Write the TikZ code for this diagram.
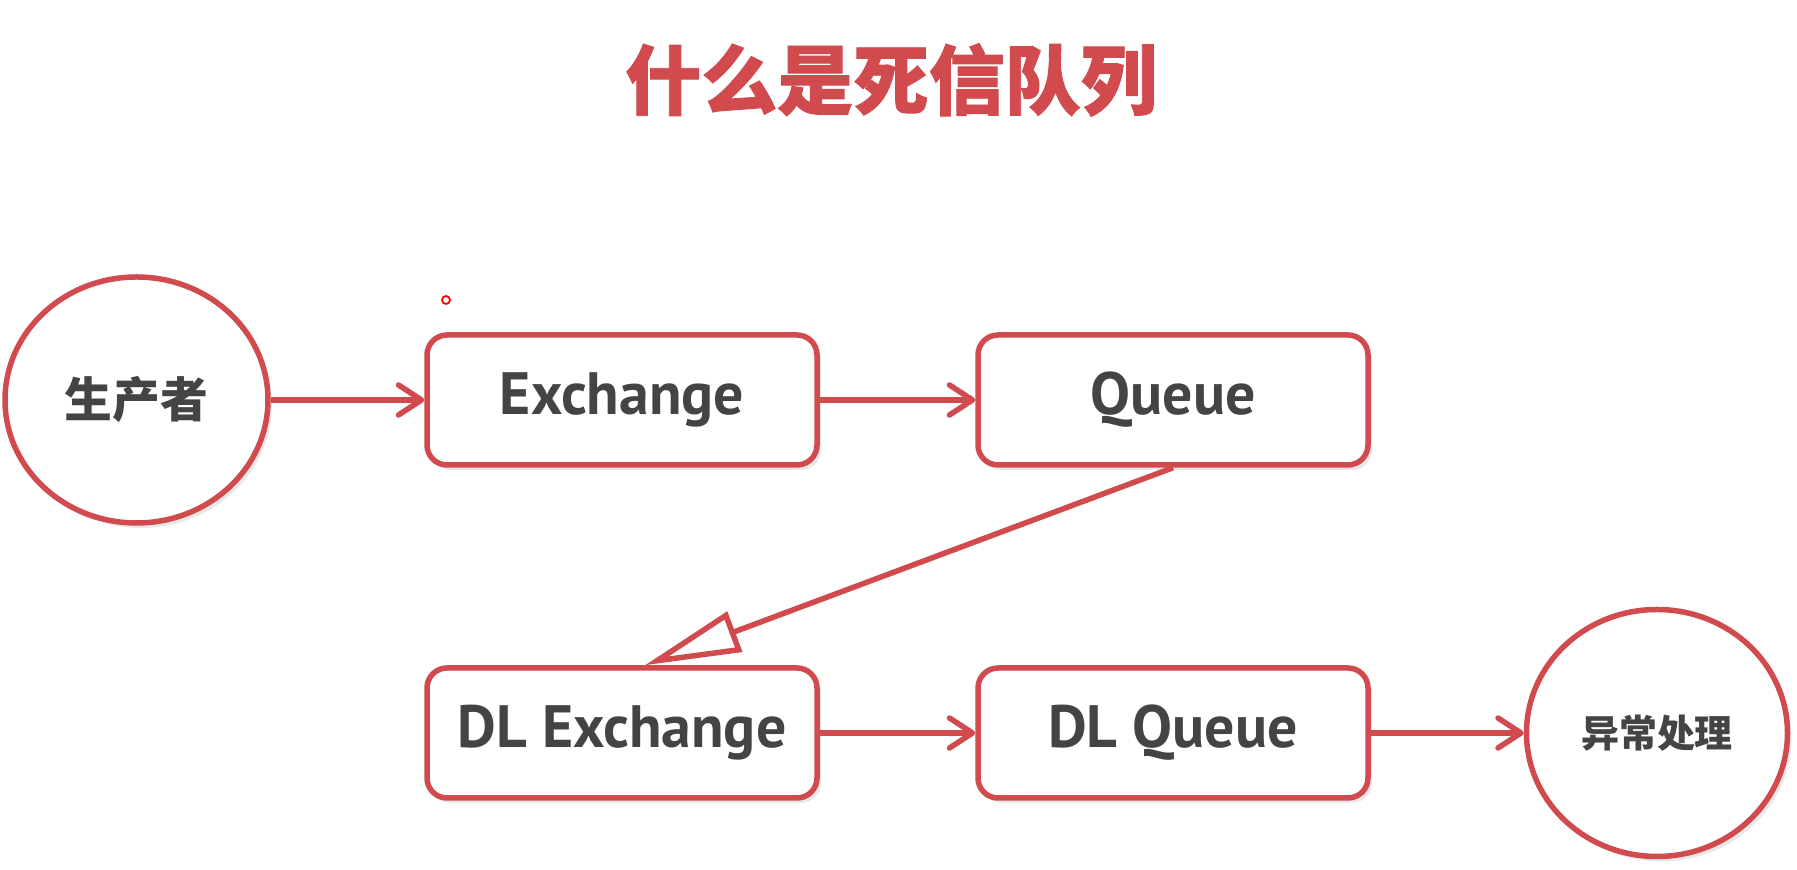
\documentclass[tikz,border=0pt]{standalone}
\usepackage{fontspec}
\setmainfont{Noto Sans CJK SC}
\newfontfamily\latinfont{PT Sans}
\newfontfamily\titlefont[BoldFeatures={FakeBold=1.2}]{Noto Sans CJK SC}
\usetikzlibrary{shapes,arrows.meta,positioning,calc,shadows}
\definecolor{dlred}{RGB}{208,74,78}
\definecolor{txtgray}{RGB}{68,68,68}

\begin{document}
\begin{tikzpicture}[
    box/.style={draw=dlred, line width=0.55mm, rounded corners=2mm, fill=white,
      minimum width=3.9cm, minimum height=1.3cm, text=txtgray,
      font=\latinfont\fontsize{17}{19}\selectfont\bfseries,
      drop shadow={shadow xshift=0.4mm, shadow yshift=-0.5mm, opacity=0.18}},
    blob/.style={ellipse, draw=dlred, line width=0.55mm, fill=white, text=txtgray,
      inner sep=0pt, font=\bfseries,
      drop shadow={shadow xshift=0.4mm, shadow yshift=-0.5mm, opacity=0.18}},
    flow/.style={draw=dlred, line width=0.55mm,
      -{Straight Barb[length=2.3mm, width=3mm, round]}},
  ]
    \useasboundingbox (0,0) rectangle (17.97,-8.70);

    % Title
    \node[text=dlred, font=\titlefont\fontsize{21.6}{24}\selectfont\bfseries] (title) at (8.91,-0.80) {什么是死信队列};

    % Pointer dot
    \node[circle, draw=red, line width=0.5pt, inner sep=0pt, minimum size=0.8mm] (pointer) at (4.46,-3.00) {};

    % Top row
    \node[blob, minimum width=2.63cm, minimum height=2.46cm, font=\fontsize{13.6}{15}\selectfont\bfseries] (producer) at (1.365,-4.00) {生产者};
    \node[box] (exchange) at (6.22,-4.00) {Exchange};
    \node[box] (queue) at (11.73,-4.00) {Queue};

    % Bottom row
    \node[box] (dlexchange) at (6.22,-7.33) {DL Exchange};
    \node[box] (dlqueue) at (11.73,-7.33) {DL Queue};
    \node[blob, minimum width=2.61cm, minimum height=2.47cm, font=\fontsize{10.8}{12}\selectfont\bfseries] (handler) at (16.57,-7.33) {异常处理};

    % Connectors
    \draw[flow] (producer) -- (exchange);
    \draw[flow] (exchange) -- (queue);
    \draw[draw=dlred, line width=0.55mm, -{Triangle[open, fill=white, length=9.6mm, width=4.2mm]}]
        (queue.south) -- ([xshift=2.3mm]dlexchange.north);
    \draw[flow] (dlexchange) -- (dlqueue);
    \draw[flow] (dlqueue) -- (handler);
\end{tikzpicture}
\end{document}
